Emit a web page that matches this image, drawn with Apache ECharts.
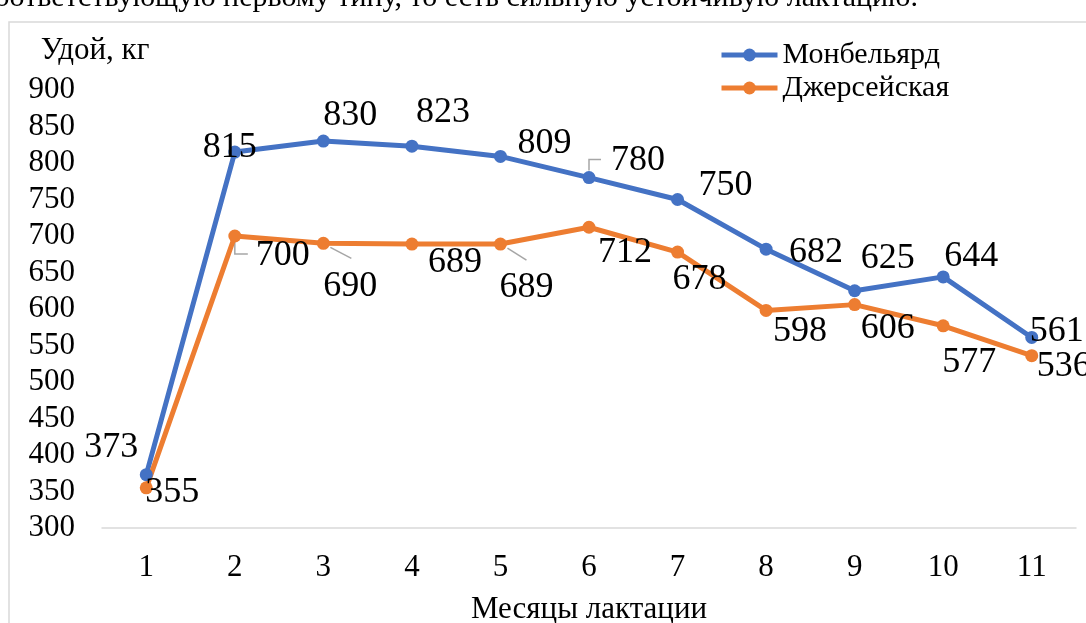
<!DOCTYPE html>
<html>
<head>
<meta charset="utf-8">
<script src="https://cdn.jsdelivr.net/npm/echarts@6/dist/echarts.min.js"></script>
<style>
html,body{margin:0;padding:0;background:#fff;}
#chart{width:1086px;height:623px;}
</style>
</head>
<body>
<div id="chart"></div>
<script>
// ---- data ----
const months = ['1','2','3','4','5','6','7','8','9','10','11'];
const seriesNames = ['Монбельярд', 'Джерсейская'];
const montbeliarde = [373, 815, 830, 823, 809, 780, 750, 682, 625, 644, 561];
const jersey = [355, 700, 690, 689, 689, 712, 678, 598, 606, 577, 536];
const yTicks = {min: 300, max: 900, interval: 50};
const yAxisName = 'Удой, кг';
const xAxisName = 'Месяцы лактации';
const topText = 'соответствующую первому типу, то есть сильную устойчивую лактацию.';

// ---- label styling (offsets of data labels, leader line shapes relative to point) ----
const offsetsA = [[-35,-27],[-5,-5],[27,-26],[31,-34],[44,-13],[49,-17],[48,-14],[50,3],[33,-32],[28,-20],[25,-6]];
const leadersA = {5: [[0,-7],[0,-18],[12,-18]]};
const offsetsB = [[26,5],[48,20],[27,43],[43,19],[26,44],[36,25],[22,27],[34,21],[33,24],[26,37],[32,11]];
const leadersB = {1: [[0,6],[0,18],[13,18]], 2: [[7,4],[28,15]], 4: [[7,4],[26,16]]};

const FONT = '"Liberation Serif","Times New Roman",serif';
const BLUE = '#4472C4';
const ORANGE = '#ED7D31';
const LEADER = '#A6A6A6';

function buildData(values, offsets) {
  return values.map((v, i) => ({value: v, label: {offset: offsets[i]}}));
}

function makeSeries(name, values, color, offsets) {
  return {
    name: name,
    type: 'line',
    data: buildData(values, offsets),
    symbol: 'circle',
    symbolSize: 13,
    itemStyle: {color: color},
    lineStyle: {color: color, width: 5},
    label: {
      show: true,
      position: 'inside',
      fontSize: 36,
      fontFamily: FONT,
      color: '#000'
    },
    emphasis: {disabled: true},
    animation: false
  };
}

const chart = echarts.init(document.getElementById('chart'), null, {renderer: 'canvas'});
const baseGraphics = [
  {
    type: 'rect', z: -10, silent: true,
    shape: {x: 9, y: 22, width: 1300, height: 800},
    style: {fill: '#fff', stroke: '#D9D9D9', lineWidth: 1.5}
  },
  {
    type: 'text', silent: true,
    style: {
      text: topText, x: 918, y: 13, textAlign: 'right', textVerticalAlign: 'bottom',
      fontSize: 30, fontFamily: FONT, fill: '#000'
    }
  }
];
chart.setOption({
  backgroundColor: '#fff',
  animation: false,
  textStyle: {fontFamily: FONT},
  graphic: baseGraphics,
  legend: {
    data: seriesNames,
    orient: 'vertical',
    left: 714,
    top: 35,
    itemWidth: 56,
    itemHeight: 16,
    itemGap: 3,
    lineStyle: {width: 5},
    textStyle: {fontSize: 30, fontFamily: FONT, color: '#000'}
  },
  grid: {left: 102, right: 10, top: 90, bottom: 95, containLabel: false, outerBoundsMode: 'none'},
  xAxis: {
    type: 'category',
    data: months,
    boundaryGap: true,
    axisLine: {lineStyle: {color: '#D9D9D9', width: 1.5}},
    axisTick: {show: false},
    axisLabel: {fontSize: 31, fontFamily: FONT, color: '#000', margin: 24},
    name: xAxisName,
    nameLocation: 'middle',
    nameGap: 66,
    nameTextStyle: {fontSize: 31, fontFamily: FONT, color: '#000'}
  },
  yAxis: {
    type: 'value',
    min: yTicks.min,
    max: yTicks.max,
    interval: yTicks.interval,
    splitLine: {show: false},
    axisLine: {show: false},
    axisTick: {show: false},
    axisLabel: {fontSize: 31, fontFamily: FONT, color: '#000', margin: 27},
    name: yAxisName,
    nameLocation: 'end',
    nameGap: 24,
    nameTextStyle: {fontSize: 31, fontFamily: FONT, color: '#000', align: 'center', padding: [0, 14, 0, 0]}
  },
  series: [
    makeSeries(seriesNames[0], montbeliarde, BLUE, offsetsA),
    makeSeries(seriesNames[1], jersey, ORANGE, offsetsB)
  ]
});

// leader lines anchored to data points through the chart's own scales
function leaderGraphics(values, leaders) {
  return Object.keys(leaders).map(k => {
    const i = +k;
    const p = chart.convertToPixel({gridIndex: 0}, [months[i], values[i]]);
    return {
      type: 'polyline', silent: true, z: 1,
      shape: {points: leaders[k].map(d => [p[0] + d[0], p[1] + d[1]])},
      style: {stroke: LEADER, lineWidth: 1.5, fill: null}
    };
  });
}
chart.setOption({
  graphic: baseGraphics.concat(leaderGraphics(montbeliarde, leadersA), leaderGraphics(jersey, leadersB))
});
</script>
</body>
</html>
